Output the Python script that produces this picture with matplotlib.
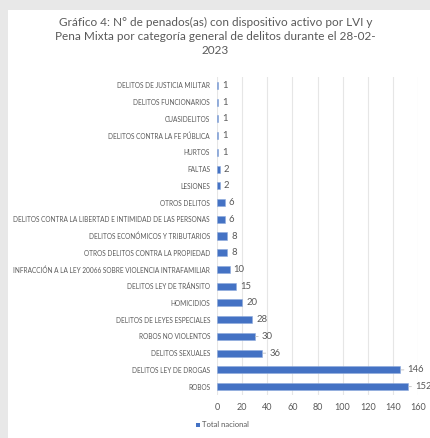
import matplotlib.pyplot as plt
from matplotlib.patches import Rectangle
import numpy as np

# categorias de arriba hacia abajo, tal como aparecen en el grafico
categorias = [
    "DELITOS DE JUSTICIA MILITAR",
    "DELITOS FUNCIONARIOS",
    "CUASIDELITOS",
    "DELITOS CONTRA LA FE PÚBLICA",
    "HURTOS",
    "FALTAS",
    "LESIONES",
    "OTROS DELITOS",
    "DELITOS CONTRA LA LIBERTAD E INTIMIDAD DE LAS PERSONAS",
    "DELITOS ECONÓMICOS Y TRIBUTARIOS",
    "OTROS DELITOS CONTRA LA PROPIEDAD",
    "INFRACCIÓN A LA LEY 20066 SOBRE VIOLENCIA INTRAFAMILIAR",
    "DELITOS LEY DE TRÁNSITO",
    "HOMICIDIOS",
    "DELITOS DE LEYES ESPECIALES",
    "ROBOS NO VIOLENTOS",
    "DELITOS SEXUALES",
    "DELITOS LEY DE DROGAS",
    "ROBOS",
]
total_nacional = [1, 1, 1, 1, 1, 2, 2, 6, 6, 8, 8, 10, 15, 20, 28, 30, 36, 146, 152]
ticks_x = [0, 20, 40, 60, 80, 100, 120, 140, 160]

titulo = ("Gráfico 4: N° de penados(as) con dispositivo activo por LVI y\n"
          "Pena Mixta por categoría general de delitos durante el 28-02-\n"
          "2023")

AZUL = "#4472C4"
GRIS = "#595959"

plt.rcParams['font.family'] = ['Lato', 'DejaVu Sans']

fig = plt.figure(figsize=(4.31, 4.38), dpi=100)
fig.patch.set_facecolor("#e8e8e8")
# panel blanco del grafico
fig.patches.append(Rectangle((8 / 431, 0), 1, 1 - 10 / 438, transform=fig.transFigure,
                             facecolor="white", edgecolor="none", zorder=-1))

ax = fig.add_axes([217 / 431, 1 - 395 / 438, 201 / 431, 318 / 438])
ax.set_facecolor("none")
ax.set_zorder(2)

y = np.arange(len(categorias))
ax.barh(y, total_nacional, height=0.42, color=AZUL, edgecolor="#8fabdc",
        linewidth=0.4, zorder=3)

for yi, v in zip(y, total_nacional):
    if v >= 30:
        ax.annotate(str(v), xy=(v, yi), xytext=(5, 0), textcoords="offset points",
                    va="center", ha="left", fontsize=6.8, color=GRIS,
                    arrowprops=dict(arrowstyle="-", color="#bfbfbf", lw=0.6,
                                    shrinkA=0.5, shrinkB=0.5))
    else:
        ax.annotate(str(v), xy=(v, yi), xytext=(3, 0), textcoords="offset points",
                    va="center", ha="left", fontsize=6.8, color=GRIS)

ax.set_xlim(0, 160)
ax.set_ylim(len(categorias) - 0.5, -0.5)
ax.set_xticks(ticks_x)
ax.set_yticks(y)
ax.set_yticklabels(categorias, fontsize=4.7, color=GRIS)
ax.tick_params(axis="x", labelsize=6.5, labelcolor=GRIS, length=0, pad=6)
ax.tick_params(axis="y", length=0, pad=5)
ax.grid(axis="x", color="#e6e6e6", linewidth=0.8, zorder=0)
for s in ax.spines.values():
    s.set_visible(False)

fig.text(0.5, 1 - 17 / 438, titulo, ha="center", va="top", fontsize=8.5,
         color=GRIS, linespacing=1.35)

# leyenda
fig.patches.append(Rectangle((196 / 431, 1 - 427 / 438), 4 / 431, 4 / 438,
                             transform=fig.transFigure, facecolor=AZUL,
                             edgecolor="none", zorder=2))
fig.text(202 / 431, 1 - 424.5 / 438, "Total nacional", ha="left", va="center",
         fontsize=5.5, color=GRIS)

fig.savefig("out.png", dpi=100, facecolor=fig.get_facecolor())
